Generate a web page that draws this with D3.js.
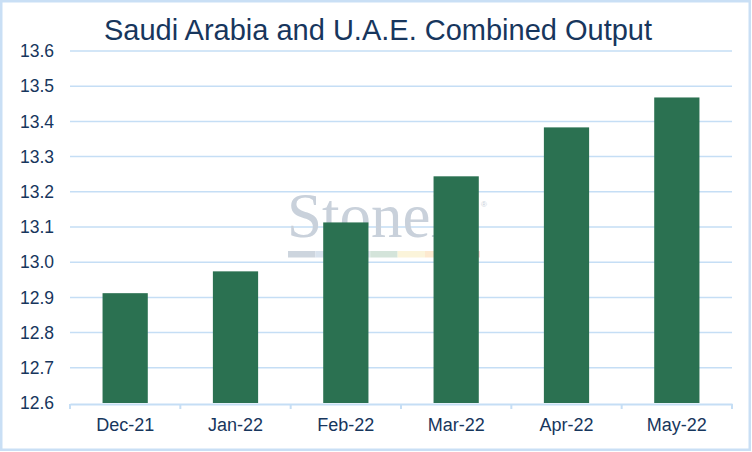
<!DOCTYPE html>
<html>
<head>
<meta charset="utf-8">
<script src="https://cdn.jsdelivr.net/npm/d3@7"></script>
<style>
  body { margin: 0; background: #fff; }
  text { font-family: "Liberation Sans", Arial, sans-serif; }
</style>
</head>
<body>
<svg id="chart"></svg>
<script>
var months = ["Dec-21", "Jan-22", "Feb-22", "Mar-22", "Apr-22", "May-22"];
var output = [12.912, 12.974, 13.113, 13.244, 13.383, 13.468];
var yTicks = [12.6, 12.7, 12.8, 12.9, 13.0, 13.1, 13.2, 13.3, 13.4, 13.5, 13.6];
var stripeColors = ["#cdd5de", "#d8e2ed", "#e2e8ef", "#d4e4da", "#fbf4da", "#fde9cf", "#f3d3d3"];

var dimensions = {
    width: 752,
    height: 452,
    margin: { top: 51, bottom: 49, right: 20, left: 70 }
}

var svg = d3.select("#chart")
            .attr("width", dimensions.width)
            .attr("height", dimensions.height);

var xScale = d3.scaleBand()
               .domain(months)
               .range([dimensions.margin.left, dimensions.width - dimensions.margin.right])
               .paddingInner(0.59)
               .paddingOuter(0.295)

var yScale = d3.scaleLinear()
               .domain([12.6, 13.6])
               .range([dimensions.height - dimensions.margin.bottom, dimensions.margin.top])

// frame
svg.append("rect")
   .attr("x", 1.25).attr("y", 1.25)
   .attr("width", dimensions.width - 3.5)
   .attr("height", dimensions.height - 3.5)
   .style("fill", "#fff")
   .style("stroke", "#c9dff5")
   .style("stroke-width", 2.5)

// gridlines
svg.append("g")
   .selectAll("line")
   .data(yTicks.slice(1))
   .join("line")
   .attr("x1", dimensions.margin.left)
   .attr("x2", dimensions.width - dimensions.margin.right)
   .attr("y1", d => yScale(d))
   .attr("y2", d => yScale(d))
   .style("stroke", "#c5def5")
   .style("stroke-width", 1.5)

// watermark
var wm = svg.append("g").style("pointer-events", "none")
wm.append("text")
  .attr("x", 287).attr("y", 237)
  .style("font-family", "'Liberation Serif', 'DejaVu Serif', serif")
  .style("font-size", "63px")
  .style("fill", "#c9d1db")
  .text("StoneX")
wm.append("text")
  .attr("x", 481).attr("y", 207)
  .style("font-size", "8px")
  .style("fill", "#c9d1db")
  .text("®")
wm.selectAll("rect")
  .data(stripeColors)
  .join("rect")
  .attr("x", (d, i) => 288 + i * 27.4)
  .attr("y", 251)
  .attr("width", 27.4)
  .attr("height", 6.5)
  .style("fill", d => d)

// bars
svg.append("g")
   .selectAll("rect")
   .data(months)
   .join("rect")
   .attr("x", d => xScale(d))
   .attr("width", xScale.bandwidth())
   .attr("y", (d, i) => yScale(output[i]))
   .attr("height", (d, i) => yScale(12.6) - yScale(output[i]))
   .style("fill", "#2b7151")

// x axis
var xAxisgen = d3.axisBottom(xScale).tickSize(0).tickPadding(14)
var xAxis = svg.append("g")
               .attr("transform", `translate(0,${yScale(12.6) + 1})`)
               .call(xAxisgen)
xAxis.select(".domain").style("stroke", "#c5def5").style("stroke-width", 2)
xAxis.selectAll("text").style("font-size", "18px").style("fill", "#17365d")

var step = xScale.step()
xAxis.selectAll(".sep")
     .data(d3.range(months.length + 1))
     .join("line")
     .attr("class", "sep")
     .attr("x1", i => dimensions.margin.left + i * step)
     .attr("x2", i => dimensions.margin.left + i * step)
     .attr("y1", 0).attr("y2", 5)
     .style("stroke", "#c5def5")
     .style("stroke-width", 2)

// y axis
var yAxisgen = d3.axisLeft(yScale).tickValues(yTicks).tickSize(0).tickPadding(16).tickFormat(d3.format(".1f"))
var yAxis = svg.append("g")
               .attr("transform", `translate(${dimensions.margin.left},0)`)
               .call(yAxisgen)
yAxis.select(".domain").remove()
yAxis.selectAll("text").style("font-size", "17.5px").style("fill", "#17365d")

// title
svg.append("text")
   .attr("x", 378).attr("y", 40)
   .attr("text-anchor", "middle")
   .style("font-size", "29px")
   .style("fill", "#17365d")
   .text("Saudi Arabia and U.A.E. Combined Output")
</script>
</body>
</html>
